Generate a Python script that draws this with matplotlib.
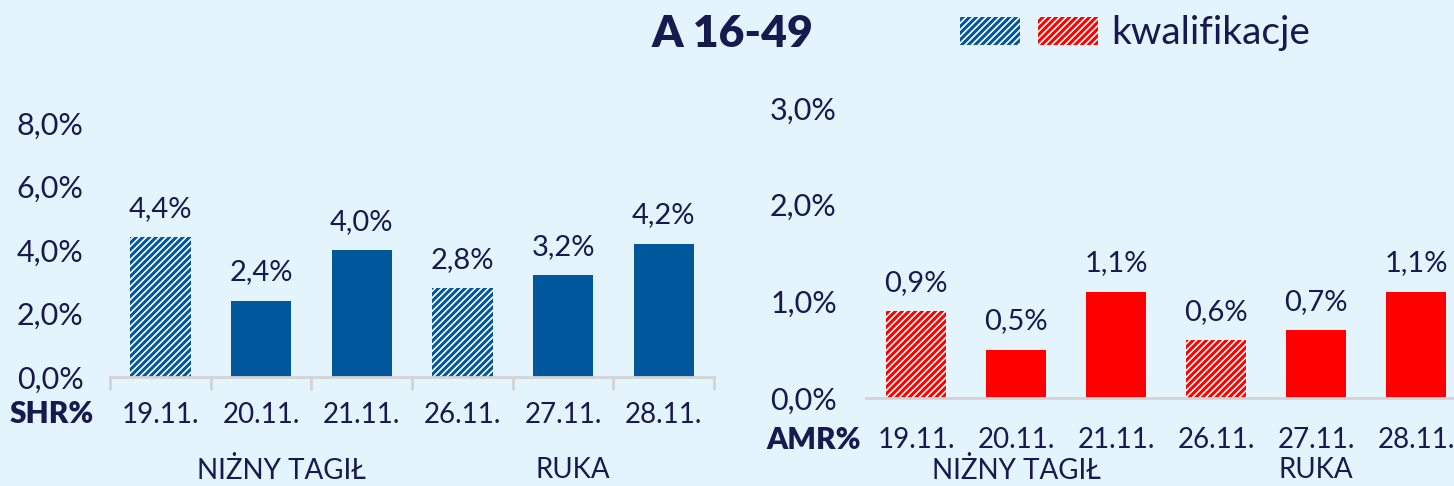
import matplotlib.pyplot as plt
from matplotlib.patches import Rectangle
from matplotlib.ticker import FuncFormatter

dates = ["19.11.", "20.11.", "21.11.", "26.11.", "27.11.", "28.11."]
qualif = [True, False, False, True, False, False]
shr = [4.4, 2.4, 4.0, 2.8, 3.2, 4.2]
amr = [0.9, 0.5, 1.1, 0.6, 0.7, 1.1]
places = ["NIŻNY TAGIŁ", "RUKA"]

bg = "#E4F4FC"
navy = "#161B4F"
blue = "#00579B"
red = "#FF0000"
axis_gray = "#D3D3D3"

plt.rcParams['font.family'] = ['Lato', 'DejaVu Sans']
plt.rcParams['hatch.linewidth'] = 2.2

fig = plt.figure(figsize=(14.54, 4.86), dpi=100, facecolor=bg)


def pct(v, pos=None):
    return f"{v:.1f}%".replace(".", ",")


def draw(ax, vals, color, ymax, yticks, ylab, ylab_off, group_x, group_dy, ypad, xpad, show_ticks):
    ax.set_facecolor("none")
    x = list(range(len(vals)))
    for i, v in enumerate(vals):
        if qualif[i]:
            ax.bar(i, v, 0.6, facecolor="white", edgecolor=color, linewidth=0, hatch="/////")
        else:
            ax.bar(i, v, 0.6, color=color)
        ax.annotate(pct(v), (i, v), xytext=(0, 11), textcoords="offset points",
                    ha="center", va="bottom", fontsize=21, color=navy)
    ax.set_xlim(-0.5, 5.5)
    ax.set_ylim(0, ymax)
    ax.set_yticks(yticks)
    ax.yaxis.set_major_formatter(FuncFormatter(pct))
    for s in ["left", "right", "top"]:
        ax.spines[s].set_visible(False)
    ax.spines["bottom"].set_color(axis_gray)
    ax.spines["bottom"].set_linewidth(2)
    ax.tick_params(axis="y", length=0, pad=ypad, labelsize=22, labelcolor=navy)
    ax.set_xticks(x)
    ax.set_xticklabels(dates)
    ax.tick_params(axis="x", length=0, pad=xpad, labelsize=20, labelcolor=navy)
    if show_ticks:
        ax.set_xticks([i - 0.5 for i in range(7)], minor=True)
        ax.tick_params(axis="x", which="minor", length=9, width=2, color=axis_gray)
    ax.annotate(ylab, (0, 0), xycoords="axes fraction", xytext=ylab_off,
                textcoords="offset points", ha="right", va="center",
                fontsize=21.5, fontweight="heavy", color=navy)
    for gx, name in zip(group_x, places):
        ax.annotate(name, (gx, 0), xycoords=("data", "axes fraction"), xytext=(0, group_dy),
                    textcoords="offset points", ha="center", va="center",
                    fontsize=20, color=navy)


ax1 = fig.add_axes([0.0757, 0.2243, 0.4154, 0.5226])
draw(ax1, shr, blue, 8, [0, 2, 4, 6, 8], "SHR%", (-12, -27), [1.2, 4.1], -67, 19, 18, True)

ax2 = fig.add_axes([0.5956, 0.1811, 0.4127, 0.5967])
draw(ax2, amr, red, 3, [0, 1, 2, 3], "AMR%", (-4, -30), [1.0, 4.0], -52, 21, 21, False)

fig.text(0.504, 0.93, "A 16-49", ha="center", va="center", fontsize=32,
         fontweight="heavy", color=navy)

w, h = 60 / 1454, 28 / 486
fig.add_artist(Rectangle((960 / 1454, 1 - 45 / 486), w, h, transform=fig.transFigure,
                         facecolor="white", edgecolor=blue, linewidth=0, hatch="/////"))
fig.add_artist(Rectangle((1038 / 1454, 1 - 45 / 486), w, h, transform=fig.transFigure,
                         facecolor="white", edgecolor=red, linewidth=0, hatch="/////"))
fig.text(1111 / 1454, 1 - 33 / 486, "kwalifikacje", ha="left", va="center",
         fontsize=28, color=navy)

fig.savefig("out.png", dpi=100, facecolor=bg)
